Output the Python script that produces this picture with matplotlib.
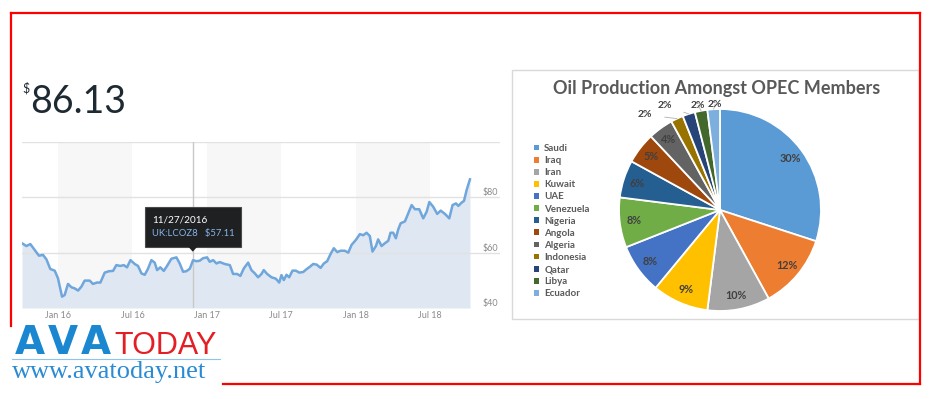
import numpy as np
import matplotlib.pyplot as plt
import matplotlib.transforms as mtransforms
from matplotlib.patches import Rectangle, Polygon, Patch
from matplotlib.lines import Line2D
from matplotlib import font_manager

W, H = 930, 399

# --- Brent price line (decimal years, USD) ---
dates = [2015.758, 2015.787, 2015.814, 2015.843, 2015.872, 2015.899, 2015.922, 2015.948,
         2015.978, 2016.000, 2016.027, 2016.045, 2016.067, 2016.090, 2016.112, 2016.135,
         2016.157, 2016.179, 2016.213, 2016.235, 2016.262, 2016.285, 2016.314, 2016.343,
         2016.370, 2016.392, 2016.419, 2016.442, 2016.464, 2016.487, 2016.516, 2016.538,
         2016.561, 2016.583, 2016.605, 2016.628, 2016.650, 2016.666, 2016.688, 2016.711,
         2016.733, 2016.762, 2016.796, 2016.818, 2016.841, 2016.863, 2016.886, 2016.908,
         2016.930, 2016.953, 2016.975, 2017.002, 2017.020, 2017.043, 2017.065, 2017.087,
         2017.121, 2017.155, 2017.177, 2017.204, 2017.226, 2017.249, 2017.278, 2017.300,
         2017.323, 2017.345, 2017.368, 2017.383, 2017.406, 2017.435, 2017.464, 2017.487,
         2017.502, 2017.518, 2017.536, 2017.554, 2017.576, 2017.599, 2017.621, 2017.648,
         2017.670, 2017.693, 2017.715, 2017.738, 2017.765, 2017.787, 2017.809, 2017.832,
         2017.854, 2017.877, 2017.899, 2017.928, 2017.951, 2017.973, 2018.002, 2018.029,
         2018.052, 2018.074, 2018.096, 2018.114, 2018.137, 2018.152, 2018.175, 2018.197,
         2018.220, 2018.235, 2018.253, 2018.271, 2018.287, 2018.303, 2018.332, 2018.354,
         2018.377, 2018.399, 2018.428, 2018.455, 2018.478, 2018.496, 2018.522, 2018.549,
         2018.572, 2018.601, 2018.630, 2018.652, 2018.675, 2018.691, 2018.713, 2018.729,
         2018.747, 2018.769]
prices = [63.4, 62.4, 63.1, 61.0, 58.9, 59.2, 57.6, 54.1,
          53.5, 50.7, 44.1, 44.7, 48.7, 47.5, 47.1, 46.3,
          47.7, 49.9, 49.9, 48.7, 49.2, 49.2, 52.8, 53.3,
          53.4, 55.5, 55.2, 55.5, 54.7, 57.3, 55.9, 55.2,
          52.5, 52.0, 54.2, 57.3, 56.4, 53.7, 54.7, 53.4,
          55.2, 57.8, 58.3, 56.1, 53.1, 53.3, 54.2, 57.3,
          56.9, 57.1, 58.0, 58.3, 56.7, 57.3, 56.1, 56.6,
          55.9, 55.5, 52.3, 52.3, 51.6, 54.3, 56.4, 53.7,
          52.5, 51.1, 52.3, 53.7, 52.3, 51.1, 50.6, 49.2,
          51.9, 50.1, 52.0, 51.1, 53.5, 53.5, 52.8, 53.0,
          54.0, 54.9, 55.9, 55.7, 54.5, 56.1, 56.9, 59.5,
          61.6, 60.2, 60.7, 60.7, 60.0, 62.8, 64.6, 66.7,
          66.3, 67.2, 66.0, 60.4, 62.4, 64.8, 62.4, 63.4,
          64.3, 67.2, 67.2, 65.2, 68.4, 70.6, 71.3, 74.2,
          77.2, 75.7, 75.7, 72.4, 74.8, 78.3, 76.6, 74.0,
          75.2, 74.0, 72.4, 77.2, 77.8, 76.9, 78.1, 78.7,
          82.7, 86.5]
last_price = "86.13"
grid_levels = [60, 80, 100]
y_ticks = [40, 60, 80]
y_tick_labels = ["$40", "$60", "$80"]
x_ticks = [2016.0, 2016.5, 2017.0, 2017.5, 2018.0, 2018.5]
x_tick_labels = ["Jan 16", "Jul 16", "Jan 17", "Jul 17", "Jan 18", "Jul 18"]
shaded = [(2016.0, 2016.5), (2017.0, 2017.5), (2018.0, 2018.5)]
tip_date, tip_price = 2016.906, 57.11
tip_label, tip_symbol = "11/27/2016", "UK:LCOZ8"

# --- OPEC pie ---
members = ["Saudi", "Iraq", "Iran", "Kuwait", "UAE", "Venezuela", "Nigeria",
           "Angola", "Algeria", "Indonesia", "Qatar", "Libya", "Ecuador"]
shares = [30, 12, 10, 9, 8, 8, 6, 5, 4, 2, 2, 2, 2]
colors = ["#5B9BD5", "#ED7D31", "#A5A5A5", "#FFC000", "#4472C4", "#70AD47", "#255E91",
          "#9E480E", "#636363", "#997300", "#264478", "#43682B", "#7CAFDD"]

names = {f.name for f in font_manager.fontManager.ttflist}
narrow = "Liberation Sans Narrow" if "Liberation Sans Narrow" in names else "Liberation Sans"
plt.rcParams["font.family"] = ["Lato", "DejaVu Sans"]


def px(x, y):
    return x / W, 1 - y / H


fig = plt.figure(figsize=(W / 100, H / 100), dpi=100)
fig.patch.set_facecolor("white")

# ---------------- line chart ----------------
ax = fig.add_axes([22 / W, 1 - 308 / H, (500 - 22) / W, (308 - 142) / H])
ax.set_xlim(2015.758, 2018.971)
ax.set_ylim(40, 100)
for a, b in shaded:
    ax.axvspan(a, b, color="#f7f7f7", lw=0, zorder=0)
ax.fill_between(dates, prices, 40, color="#dfe8f2", lw=0, zorder=1)
for g in grid_levels:
    ax.axhline(g, color="#e2e2e2", lw=1, zorder=1.5)
ax.axvline(tip_date, color="#c8c8c8", lw=1, zorder=1.6)
ax.plot(dates, prices, color="#6fa6dc", lw=1.8, zorder=2, solid_joinstyle="round")
for s in ax.spines.values():
    s.set_visible(False)
ax.set_xticks(x_ticks)
ax.set_xticklabels(x_tick_labels)
ax.yaxis.tick_right()
ax.set_yticks(y_ticks)
ax.set_yticklabels(y_tick_labels)
ax.tick_params(axis="x", length=0, pad=2, labelsize=6.5, labelcolor="#8a8a8a")
ax.tick_params(axis="y", length=0, pad=-12.5, labelsize=6.5, labelcolor="#8a8a8a")
for lab in ax.get_yticklabels():
    lab.set_va("bottom")

# tooltip, laid out in pixels around the hovered point
tip = mtransforms.ScaledTranslation(tip_date, tip_price, ax.transData)
ax.add_patch(Rectangle((-48, 14), 96, 40, transform=tip, fc="#1f2022", ec="#4a4a4a",
                       lw=0.8, zorder=5, clip_on=False))
ax.add_patch(Polygon([(-5, 14.5), (5, 14.5), (0, 9)], closed=True, transform=tip,
                     fc="#1f2022", ec="none", zorder=5.1, clip_on=False))
ax.text(-41, 41, tip_label, transform=tip, color="white", fontsize=7.2,
        ha="left", va="center", zorder=6)
ax.text(-41, 27, f"{tip_symbol}   ${tip_price:.2f}", transform=tip, color="#86b6e8",
        fontsize=6.8, ha="left", va="center", zorder=6)

fig.text(*px(22, 94), "$", fontsize=9, color="#1e2a32", ha="left", va="bottom")
fig.text(*px(30, 113), last_price, fontsize=27, color="#1e2a32", ha="left",
         va="baseline")

# ---------------- pie panel ----------------
fig.add_artist(Rectangle(px(512, 319), (919 - 512) / W, (319 - 70) / H,
                         transform=fig.transFigure, fc="none", ec="#d9d9d9", lw=1))
fig.text(*px(717, 94), "Oil Production Amongst OPEC Members", fontsize=13,
         fontweight="bold", color="#595959", ha="center", va="baseline")

axp = fig.add_axes([619 / W, 1 - 311 / H, 202 / W, 202 / H])
wedges, _ = axp.pie(shares, colors=colors, startangle=90, counterclock=False,
                    wedgeprops=dict(edgecolor="white", linewidth=1.3))
axp.set_xlim(-1, 1)
axp.set_ylim(-1, 1)
axp.set_aspect("auto")

small_nudge = {9: (13, 1.20), 10: (10, 1.17), 11: (1, 1.06), 12: (-1, 1.05)}
for i, w in enumerate(wedges):
    mid = np.deg2rad((w.theta1 + w.theta2) / 2)
    lab = f"{shares[i]}%"
    if i in small_nudge:
        dang, r = small_nudge[i]
        ang = mid + np.deg2rad(dang)
        axp.annotate(lab, xy=(np.cos(mid), np.sin(mid)),
                     xytext=(r * np.cos(ang), r * np.sin(ang)),
                     ha="center", va="center", fontsize=7.5, fontweight="bold",
                     color="#404040",
                     arrowprops=dict(arrowstyle="-", color="#b0b0b0", lw=0.6,
                                     shrinkA=7, shrinkB=0))
    else:
        axp.text(0.86 * np.cos(mid), 0.86 * np.sin(mid), lab, ha="center",
                 va="center", fontsize=7.8, fontweight="bold", color="#404040")

handles = [Patch(facecolor=c, edgecolor="none") for c in colors]
fig.legend(handles, members, loc="upper left", bbox_to_anchor=px(534, 144),
           frameon=False, handlelength=0.55, handleheight=0.55,
           handletextpad=0.5, labelspacing=0.32, borderaxespad=0, borderpad=0,
           labelcolor="#595959", prop=dict(weight="bold", size=7))

# ---------------- frame and logo ----------------
red = "#ff0000"
for xs, ys in [((11, 11), (13, 326)), ((11, 920), (13, 13)),
               ((920, 920), (13, 384)), ((223, 920), (384, 384))]:
    p0, p1 = px(xs[0], ys[0]), px(xs[1], ys[1])
    fig.add_artist(Line2D([p0[0], p1[0]], [p0[1], p1[1]], color=red, lw=1.6,
                          transform=fig.transFigure))

for cx, ch in zip((30, 63, 96), "AVA"):
    fig.text(*px(cx, 354), ch, fontsize=28, fontweight="bold", color="#1a87d0",
             ha="center", va="baseline", family="DejaVu Sans")
fig.text(*px(114, 354), "TODAY", fontsize=22, color="#e31e24", ha="left",
         va="baseline", family=narrow)
p0, p1 = px(12, 359), px(220, 359)
fig.add_artist(Line2D([p0[0], p1[0]], [p0[1], p1[1]], color="#8cc4ec", lw=0.8,
                      transform=fig.transFigure))
fig.text(*px(12, 378), "www.avatoday.net", fontsize=19, color="#2a8ad4",
         ha="left", va="baseline", family="Liberation Serif")

fig.savefig("out.png", dpi=100)
